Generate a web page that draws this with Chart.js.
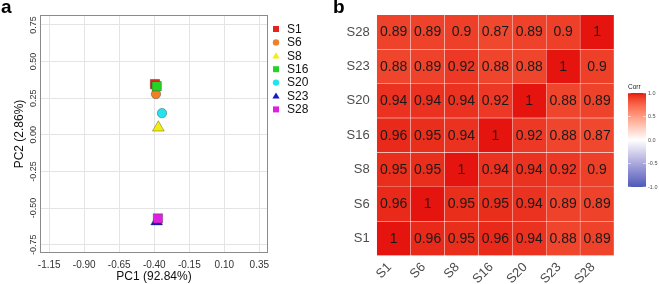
<!DOCTYPE html>
<html>
<head>
<meta charset="utf-8">
<script src="https://cdn.jsdelivr.net/npm/chart.js@4.4.0/dist/chart.umd.min.js"></script>
<style>
  body { margin: 0; background: #fff; }
  #wrap { position: relative; width: 659px; height: 284px; overflow: hidden; font-family: "Liberation Sans", Arial, sans-serif; }
  #wrap canvas { position: absolute; top: 0; }
  .tag { position: absolute; top: -3px; font-weight: bold; font-size: 19px; line-height: 19px; color: #000; }
</style>
</head>
<body>
<div id="wrap">
  <canvas id="pca" width="330" height="284" style="left:0"></canvas>
  <canvas id="heat" width="329" height="284" style="left:330px"></canvas>
  <div class="tag" style="left:1px">a</div>
  <div class="tag" style="left:333px">b</div>
</div>
<script>
// samples and PCA scores
const samples = ['S1', 'S6', 'S8', 'S16', 'S20', 'S23', 'S28'];
const pc1 = [-0.395, -0.388, -0.371, -0.383, -0.345, -0.383, -0.374];
const pc2 = [0.346, 0.278, 0.049, 0.332, 0.148, -0.592, -0.571];

const xTicks = [-1.15, -0.90, -0.65, -0.40, -0.15, 0.10, 0.35];
const xTickLabels = ['-1.15', '-0.90', '-0.65', '-0.40', '-0.15', '0.10', '0.35'];
const yTicks = [-0.75, -0.50, -0.25, 0.00, 0.25, 0.50, 0.75];
const yTickLabels = ['-0.75', '-0.50', '-0.25', '0.00', '0.25', '0.50', '0.75'];

// correlation matrix, rows bottom (S1) to top (S28), columns S1..S28
const corr = [
  [1, 0.96, 0.95, 0.96, 0.94, 0.88, 0.89],
  [0.96, 1, 0.95, 0.95, 0.94, 0.89, 0.89],
  [0.95, 0.95, 1, 0.94, 0.94, 0.92, 0.9],
  [0.96, 0.95, 0.94, 1, 0.92, 0.88, 0.87],
  [0.94, 0.94, 0.94, 0.92, 1, 0.88, 0.89],
  [0.88, 0.89, 0.92, 0.88, 0.88, 1, 0.9],
  [0.89, 0.89, 0.9, 0.87, 0.89, 0.9, 1]
];
const barTicks = [1, 0.5, 0, -0.5, -1];

// styles
const pointColors = ['#e8221c', '#f08028', '#f4ee10', '#26d426', '#22e4ee', '#1818c8', '#e020e0'];
const pointShapes = ['rect', 'circle', 'triangle', 'rect', 'circle', 'triangle', 'rect'];
const pointSizes = { rect: 6.6, circle: 4.7, triangle: 6.8 };
const FONT = '"Liberation Sans", Arial, sans-serif';
Chart.defaults.font.family = FONT;

// blue - white - red gradient, interpolated in Lab like ggplot
function toLab(hex) {
  const n = parseInt(hex.slice(1), 16);
  const c = [(n >> 16) & 255, (n >> 8) & 255, n & 255].map(v => {
    v /= 255; return v <= 0.04045 ? v / 12.92 : Math.pow((v + 0.055) / 1.055, 2.4);
  });
  const X = (0.4124 * c[0] + 0.3576 * c[1] + 0.1805 * c[2]) / 0.95047;
  const Y = 0.2126 * c[0] + 0.7152 * c[1] + 0.0722 * c[2];
  const Z = (0.0193 * c[0] + 0.1192 * c[1] + 0.9505 * c[2]) / 1.08883;
  const f = t => t > 0.008856 ? Math.cbrt(t) : 7.787 * t + 16 / 116;
  return [116 * f(Y) - 16, 500 * (f(X) - f(Y)), 200 * (f(Y) - f(Z))];
}
function fromLab(L, a, b) {
  const fy = (L + 16) / 116, fx = fy + a / 500, fz = fy - b / 200;
  const inv = t => t * t * t > 0.008856 ? t * t * t : (t - 16 / 116) / 7.787;
  const X = inv(fx) * 0.95047, Y = inv(fy), Z = inv(fz) * 1.08883;
  const lin = [3.2406 * X - 1.5372 * Y - 0.4986 * Z,
               -0.9689 * X + 1.8758 * Y + 0.0415 * Z,
               0.0557 * X - 0.2040 * Y + 1.0570 * Z];
  const s = v => {
    v = Math.min(1, Math.max(0, v));
    v = v <= 0.0031308 ? 12.92 * v : 1.055 * Math.pow(v, 1 / 2.4) - 0.055;
    return Math.round(v * 255);
  };
  return 'rgb(' + lin.map(s).join(',') + ')';
}
const labHigh = toLab('#e6140f'), labMid = toLab('#ffffff'), labLow = toLab('#4a5ab8');
function corrColor(v) {
  const end = v >= 0 ? labHigh : labLow;
  const t = Math.abs(v);
  return fromLab(labMid[0] + (end[0] - labMid[0]) * t,
                 labMid[1] + (end[1] - labMid[1]) * t,
                 labMid[2] + (end[2] - labMid[2]) * t);
}

// ---- panel a: PCA ----
const pcaFrame = {
  id: 'pcaFrame',
  afterDatasetsDraw(chart) {
    const { ctx, chartArea: a } = chart;
    ctx.save();
    ctx.strokeStyle = '#8a8a8a';
    ctx.lineWidth = 1;
    ctx.strokeRect(Math.round(a.left) + 0.5, Math.round(a.top) + 0.5,
                   Math.round(a.right - a.left) - 1, Math.round(a.bottom - a.top) - 1);
    ctx.restore();
  },
  afterDraw(chart) {
    const ctx = chart.ctx;
    ctx.save();
    ctx.font = '12px ' + FONT;
    ctx.textBaseline = 'middle';
    samples.forEach((s, i) => {
      const x = 276, y = 29 + i * 13.4;
      ctx.fillStyle = pointColors[i];
      ctx.beginPath();
      if (pointShapes[i] === 'rect') ctx.rect(x - 3, y - 3, 6, 6);
      else if (pointShapes[i] === 'circle') ctx.arc(x, y, 3.2, 0, Math.PI * 2);
      else { ctx.moveTo(x, y - 3.6); ctx.lineTo(x + 3.6, y + 2.6); ctx.lineTo(x - 3.6, y + 2.6); ctx.closePath(); }
      ctx.fill();
      ctx.fillStyle = '#111';
      ctx.fillText(s, 287, y + 0.5);
    });
    ctx.restore();
  }
};

new Chart(document.getElementById('pca'), {
  type: 'scatter',
  data: {
    datasets: samples.map((s, i) => ({
      label: s,
      data: [{ x: pc1[i], y: pc2[i] }],
      order: -i,
      pointStyle: pointShapes[i],
      pointRadius: pointSizes[pointShapes[i]],
      backgroundColor: pointColors[i],
      borderColor: 'rgba(40,40,40,0.6)',
      borderWidth: 0.6
    }))
  },
  options: {
    responsive: false,
    animation: false,
    layout: { padding: { left: 0, top: 15, right: 62, bottom: 0 } },
    plugins: { legend: { display: false }, tooltip: { enabled: false } },
    scales: {
      x: {
        type: 'linear', min: -1.216, max: 0.412,
        afterBuildTicks: sc => { sc.ticks = xTicks.map(v => ({ value: v })); },
        afterFit: sc => { sc.height = 31; },
        ticks: { callback: (v, i) => xTickLabels[i], font: { size: 10 }, color: '#333', padding: 6, maxRotation: 0 },
        grid: { color: '#e4e4e4', drawTicks: false },
        border: { display: false },
        title: { display: true, text: 'PC1 (92.84%)', font: { size: 12 }, color: '#111', padding: { top: 0, bottom: 0 } }
      },
      y: {
        type: 'linear', min: -0.807, max: 0.818,
        afterBuildTicks: sc => { sc.ticks = yTicks.map(v => ({ value: v })); },
        afterFit: sc => { sc.width = 40; },
        ticks: { callback: (v, i) => yTickLabels[i], font: { size: 9 }, color: '#333',
                 minRotation: 90, maxRotation: 90, crossAlign: 'center', padding: -4 },
        grid: { color: '#e4e4e4', drawTicks: false },
        border: { display: false },
        title: { display: true, text: 'PC2 (2.86%)', font: { size: 12 }, color: '#111', padding: { top: 12.8, bottom: 0 } }
      }
    }
  },
  plugins: [pcaFrame]
});

// ---- panel b: correlation heatmap ----
const cellLabels = {
  id: 'cellLabels',
  afterDatasetsDraw(chart) {
    const ctx = chart.ctx;
    ctx.save();
    ctx.font = '14px ' + FONT;
    ctx.fillStyle = '#1a1a1a';
    ctx.textAlign = 'center';
    ctx.textBaseline = 'middle';
    chart.data.datasets.forEach((ds, i) => {
      chart.getDatasetMeta(i).data.forEach((bar, j) => {
        ctx.fillText(String(corr[i][j]), bar.x, (bar.y + bar.base) / 2 + 0.5);
      });
    });
    ctx.restore();
  }
};

const colorBar = {
  id: 'colorBar',
  afterDraw(chart) {
    const ctx = chart.ctx;
    const x = 298, y0 = 93, w = 18, h = 94;
    ctx.save();
    const g = ctx.createLinearGradient(0, y0, 0, y0 + h);
    for (let k = 0; k <= 40; k++) g.addColorStop(k / 40, corrColor(1 - 2 * k / 40));
    ctx.fillStyle = g;
    ctx.fillRect(x, y0, w, h);
    ctx.font = '5.5px ' + FONT;
    ctx.textBaseline = 'middle';
    barTicks.forEach(v => {
      const yy = y0 + (1 - v) / 2 * h;
      ctx.strokeStyle = 'rgba(255,255,255,0.9)';
      ctx.lineWidth = 0.6;
      ctx.beginPath();
      ctx.moveTo(x, yy); ctx.lineTo(x + 3, yy);
      ctx.moveTo(x + w - 3, yy); ctx.lineTo(x + w, yy);
      ctx.stroke();
      ctx.fillStyle = '#4d4d4d';
      ctx.fillText(v.toFixed(1), x + w + 2, yy);
    });
    ctx.font = '6.5px ' + FONT;
    ctx.fillStyle = '#222';
    ctx.textBaseline = 'alphabetic';
    ctx.fillText('Corr', x, y0 - 4);
    ctx.restore();
  }
};

new Chart(document.getElementById('heat'), {
  type: 'bar',
  data: {
    labels: samples,
    datasets: samples.map((s, i) => ({
      label: s,
      data: samples.map(() => 1),
      backgroundColor: ctx => corrColor(corr[i][ctx.dataIndex]),
      borderColor: 'rgba(255,255,255,0.13)',
      borderWidth: 0.5,
      borderSkipped: false,
      barPercentage: 1,
      categoryPercentage: 1
    }))
  },
  options: {
    responsive: false,
    animation: false,
    layout: { padding: { left: 0, top: 13.3, right: 45, bottom: 0 } },
    plugins: { legend: { display: false }, tooltip: { enabled: false } },
    scales: {
      x: {
        stacked: true,
        afterFit: sc => { sc.height = 28.3; },
        ticks: { font: { size: 13 }, color: '#4d4d4d', minRotation: 45, maxRotation: 45, padding: 4, labelOffset: -4 },
        grid: { display: false, drawTicks: false },
        border: { display: false }
      },
      y: {
        stacked: true, min: 0, max: 7,
        afterBuildTicks: sc => { sc.ticks = samples.map((s, i) => ({ value: i + 0.5 })); },
        afterFit: sc => { sc.width = 46.7; },
        ticks: { callback: (v, i) => samples[i], font: { size: 13 }, color: '#4d4d4d', padding: 7 },
        grid: { display: false, drawTicks: false },
        border: { display: false }
      }
    }
  },
  plugins: [cellLabels, colorBar]
});
</script>
</body>
</html>
